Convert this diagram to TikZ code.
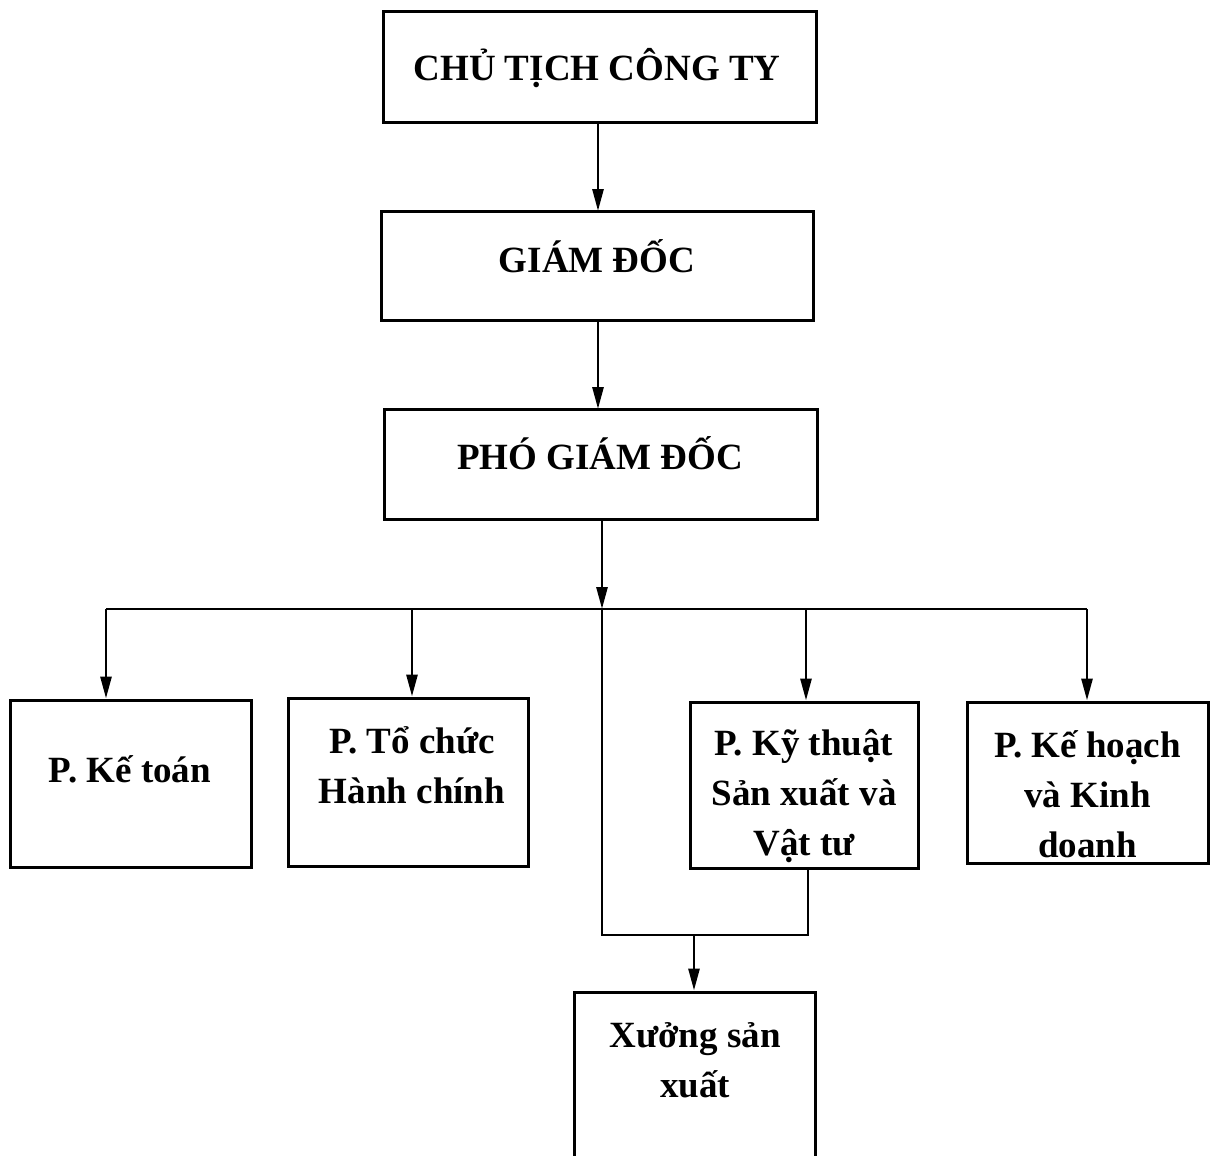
\documentclass[tikz,border=0pt]{standalone}
\usepackage{fontspec}
\setmainfont{Liberation Serif}
\usetikzlibrary{arrows.meta}

% multi-line labels are anchored at the baseline of their last line
\tikzset{
  box/.style={draw, line width=3pt, inner sep=0pt, fill=none},
  lbl/.style={anchor=base, inner sep=0pt, align=center,
    font=\bfseries\fontsize{37}{50}\selectfont},
  link/.style={line width=2.8pt},
  arr/.style={link, -{Triangle[length=22pt,width=11pt]}}
}

\begin{document}
\begin{tikzpicture}[x=1pt, y=-1pt]
  \useasboundingbox (0,0) rectangle (1213,1156);

  % management chain
  \node[box, minimum width=433pt, minimum height=110pt] (chutich) at (599.5,67) {};
  \node[lbl] (chutich-t) at (597,81) {CHỦ TỊCH CÔNG TY};
  \node[box, minimum width=432pt, minimum height=109pt] (giamdoc) at (597,265.5) {};
  \node[lbl] (giamdoc-t) at (597,272) {GIÁM ĐỐC};
  \node[box, minimum width=433pt, minimum height=110pt] (pho) at (600.5,464) {};
  \node[lbl] (pho-t) at (600,469) {PHÓ GIÁM ĐỐC};

  % departments
  \node[box, minimum width=241pt, minimum height=167pt] (ketoan) at (130.5,783.5) {};
  \node[lbl] (ketoan-t) at (130,782) {P. Kế toán};
  \node[box, minimum width=240pt, minimum height=168pt] (tochuc) at (408,782) {};
  \node[lbl] (tochuc-t) at (412,803) {P. Tổ chức\\Hành chính};
  \node[box, minimum width=228pt, minimum height=166pt] (kythuat) at (804,785) {};
  \node[lbl] (kythuat-t) at (804,855) {P. Kỹ thuật\\Sản xuất và\\Vật tư};
  \node[box, minimum width=241pt, minimum height=161pt] (kehoach) at (1087.5,782.5) {};
  \node[lbl] (kehoach-t) at (1087.5,857) {P. Kế hoạch\\và Kinh\\doanh};

  % workshop
  \node[box, minimum width=241pt, minimum height=182pt] (xuong) at (694.5,1083) {};
  \node[lbl] (xuong-t) at (695,1097) {Xưởng sản\\xuất};

  % bus and junction points
  \coordinate (bus) at (602,609);
  \coordinate (d1) at (106,609);
  \coordinate (d2) at (412,609);
  \coordinate (d3) at (806,609);
  \coordinate (d4) at (1087,609);
  \coordinate (mL) at (602,935);
  \coordinate (mR) at (808,935);
  \coordinate (mX) at (694,935);

  % connectors
  \draw[arr] (598,122) -- (598,211);
  \draw[arr] (598,320) -- (598,409);
  \draw[arr] (pho.south -| bus) -- (bus);
  \draw[link] (d1) -- (d4);
  \draw[arr] (d1) -- (d1 |- ketoan.north);
  \draw[arr] (d2) -- (d2 |- tochuc.north);
  \draw[arr] (d3) -- (d3 |- kythuat.north);
  \draw[arr] (d4) -- (d4 |- kehoach.north);
  \draw[link] (bus) -- (mL) -- (mR) -- (mR |- kythuat.south);
  \draw[arr] (mX) -- (mX |- xuong.north);
\end{tikzpicture}
\end{document}
